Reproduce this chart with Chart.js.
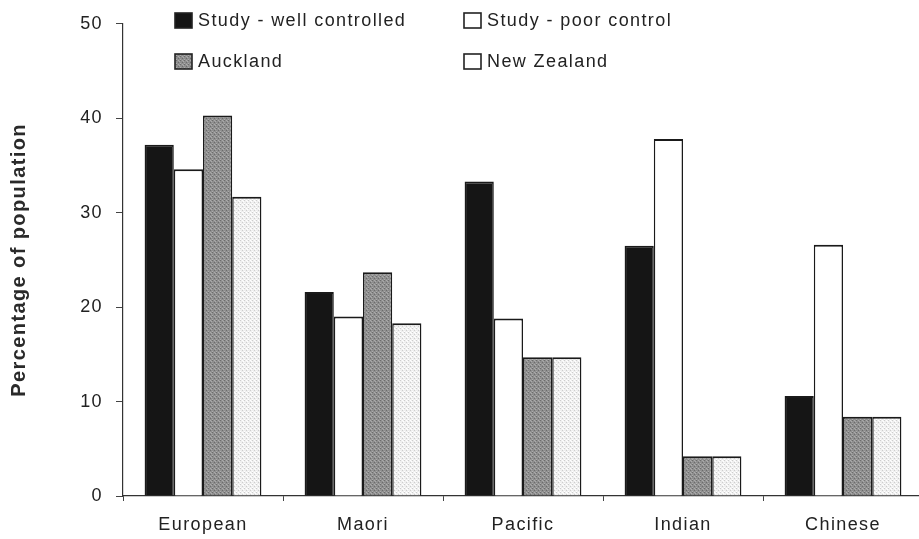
<!DOCTYPE html>
<html lang="en">
<head>
    <meta charset="UTF-8">
    <title>Ethnicity chart</title>
    <style>
        html, body { margin: 0; padding: 0; background: #fff; overflow: hidden; }
        #wrap { width: 930px; height: 539px; position: relative; }
    </style>
</head>
<body>
    <div id="wrap"><canvas id="myChart"></canvas></div>

    <script src="https://cdn.jsdelivr.net/npm/chart.js"></script>
    <script>
    const categories = ['European', 'Maori', 'Pacific', 'Indian', 'Chinese'];
    const seriesNames = ['Study - well controlled', 'Study - poor control', 'Auckland', 'New Zealand'];
    const wellControlled = [37.2, 21.6, 33.3, 26.5, 10.6];
    const poorControl = [34.6, 19.0, 18.8, 37.8, 26.6];
    const auckland = [40.3, 23.7, 14.7, 4.2, 8.4];
    const newZealand = [31.7, 18.3, 14.7, 4.2, 8.4];
    const yTicks = [0, 10, 20, 30, 40, 50];

    const FONT = "'Liberation Sans', Arial, sans-serif";

    // little stipple textures like the scanned print
    function stipple(base, dot1, dot2) {
        const c = document.createElement('canvas');
        c.width = 4; c.height = 4;
        const g = c.getContext('2d');
        g.fillStyle = base; g.fillRect(0, 0, 4, 4);
        g.fillStyle = dot1; g.fillRect(0, 0, 1, 1); g.fillRect(2, 2, 1, 1);
        g.fillStyle = dot2; g.fillRect(2, 0, 1, 1); g.fillRect(0, 3, 1, 1); g.fillRect(3, 1, 1, 1);
        return g.createPattern(c, 'repeat');
    }
    const grayFill = stipple('#8e8e8e', '#6c6c6c', '#ababab');
    const lightFill = stipple('#efefef', '#cdcdcd', '#ffffff');

    const fills = ['#151515', '#ffffff', grayFill, lightFill];
    const legendBoxes = ['#151515', '#ffffff', grayFill, '#ffffff'];
    const values = [wellControlled, poorControl, auckland, newZealand];

    const spacing = {
        id: 'spacing',
        beforeDraw(chart) { chart.ctx.letterSpacing = '1.4px'; }
    };

    // legend sits inside the plot, 2 x 2
    const boxLegend = {
        id: 'boxLegend',
        afterDraw(chart) {
            const ctx = chart.ctx;
            const spots = [[175, 20], [464, 20], [175, 61], [464, 61]];
            ctx.save();
            ctx.letterSpacing = '1.4px';
            ctx.font = '18px ' + FONT;
            ctx.textBaseline = 'middle';
            chart.data.datasets.forEach((ds, i) => {
                const [x, y] = spots[i];
                ctx.fillStyle = legendBoxes[i];
                ctx.fillRect(x, y - 7, 17, 15);
                ctx.strokeStyle = '#222';
                ctx.lineWidth = 1.6;
                ctx.strokeRect(x, y - 7, 17, 15);
                ctx.fillStyle = '#222';
                ctx.fillText(ds.label, x + 23, y + 1);
            });
            ctx.restore();
        }
    };

    new Chart(document.getElementById('myChart'), {
        type: 'bar',
        data: {
            labels: categories,
            datasets: seriesNames.map((name, i) => ({
                label: name,
                data: values[i],
                backgroundColor: fills[i],
                borderColor: '#1a1a1a',
                borderWidth: { top: 2, left: 1.5, right: 1.5, bottom: 0 },
                borderSkipped: false,
                barPercentage: 1,
                categoryPercentage: 0.73
            }))
        },
        options: {
            responsive: true,
            maintainAspectRatio: false,
            animation: false,
            layout: { padding: { top: 20, right: 7, left: 0, bottom: 0 } },
            plugins: {
                legend: { display: false },
                tooltip: { enabled: false }
            },
            scales: {
                x: {
                    grid: { drawOnChartArea: false, tickLength: 5, color: '#444', offset: true },
                    border: { color: '#333', width: 1.2 },
                    ticks: { color: '#222', font: { family: FONT, size: 18 }, padding: 13, maxRotation: 0 },
                    afterFit(scale) { scale.height = 43; }
                },
                y: {
                    min: 0,
                    max: 50,
                    afterBuildTicks(scale) { scale.ticks = yTicks.map(v => ({ value: v })); },
                    grid: { drawOnChartArea: false, tickLength: 7, color: '#444' },
                    border: { color: '#333', width: 1.2 },
                    ticks: { color: '#222', font: { family: FONT, size: 18 }, padding: 13 },
                    title: {
                        display: true,
                        text: 'Percentage of population',
                        color: '#2a2a2a',
                        font: { family: FONT, size: 20, weight: 'bold' },
                        padding: { top: 7, bottom: 0 }
                    },
                    afterFit(scale) { scale.width = 123; }
                }
            }
        },
        plugins: [spacing, boxLegend]
    });
    </script>
</body>
</html>
